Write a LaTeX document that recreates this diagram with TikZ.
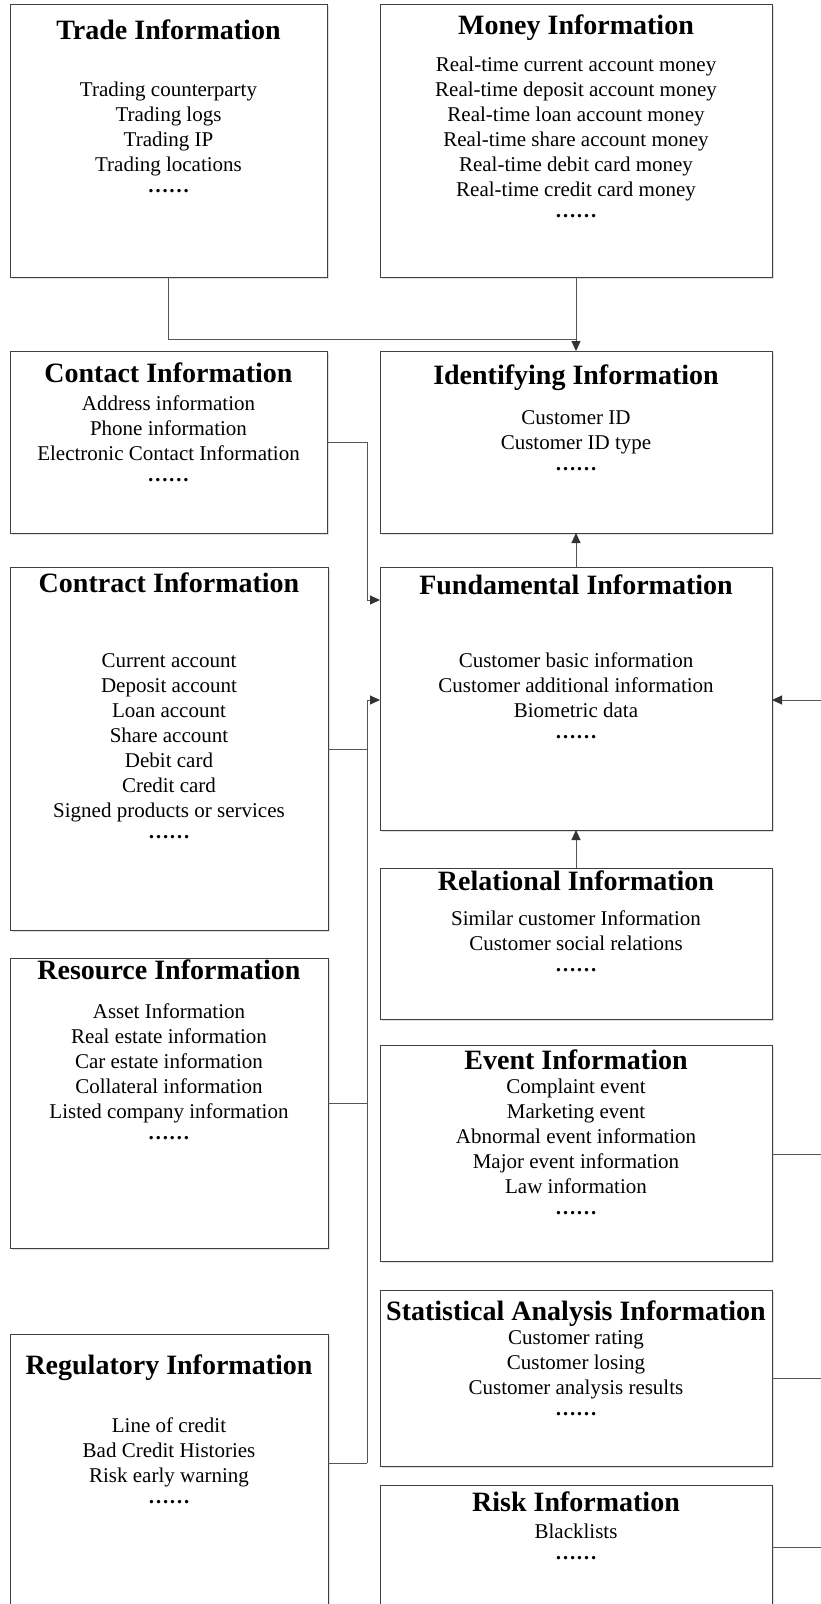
\documentclass[tikz,border=0pt]{standalone}
\usepackage{fontspec}
\setmainfont{Liberation Serif}
\usetikzlibrary{arrows.meta,shadows}
\definecolor{boxc}{HTML}{404040}
\definecolor{linec}{HTML}{555555}
\definecolor{arrc}{HTML}{333333}
\newcommand{\mydots}{\raisebox{4pt}{\textbf{……}}}
\begin{document}
\begin{tikzpicture}[x=1pt,y=-1pt,
  box/.style={draw=boxc, line width=1pt, fill=white, anchor=north west, inner sep=0pt, outer sep=0pt,
    drop shadow={shadow xshift=2pt, shadow yshift=-2pt, fill=black, opacity=0.12}},
  ttl/.style={font=\fontsize{28}{34}\selectfont\bfseries, anchor=base, inner sep=0pt},
  txt/.style={font=\fontsize{21}{25}\selectfont, align=center, anchor=base, inner sep=0pt},
  conn/.style={draw=linec, line width=1pt},
  arr/.style={conn, -{Triangle[length=10pt,width=9pt,color=arrc]}}
]
\fill[white] (0,0) rectangle (821,1604);
\useasboundingbox (0,0) rectangle (821,1604);
\clip (0,0) rectangle (821,1604);

% boxes
\node[box, minimum width=317, minimum height=273] (trade) at (10,4) {};
\node[box, minimum width=392, minimum height=273] (money) at (380,4) {};
\node[box, minimum width=317, minimum height=182] (contact) at (10,351) {};
\node[box, minimum width=392, minimum height=182] (ident) at (380,351) {};
\node[box, minimum width=318, minimum height=363] (contract) at (10,567) {};
\node[box, minimum width=392, minimum height=263] (fund) at (380,567) {};
\node[box, minimum width=392, minimum height=151] (rel) at (380,868) {};
\node[box, minimum width=318, minimum height=290] (res) at (10,958) {};
\node[box, minimum width=392, minimum height=216] (event) at (380,1045) {};
\node[box, minimum width=392, minimum height=176] (stat) at (380,1290) {};
\node[box, minimum width=318, minimum height=320] (reg) at (10,1334) {};
\node[box, minimum width=392, minimum height=170] (risk) at (380,1485) {};

% texts (body nodes anchored at the baseline of their last line)
\node[ttl] (tradeT) at (168.5,39.5) {Trade Information};
\node[txt] (tradeB) at (168.5,196.7) {Trading counterparty\\Trading logs\\Trading IP\\Trading locations\\\mydots};

\node[ttl] (moneyT) at (576,34.3) {Money Information};
\node[txt] (moneyB) at (576,221.7) {Real-time current account money\\Real-time deposit account money\\Real-time loan account money\\Real-time share account money\\Real-time debit card money\\Real-time credit card money\\\mydots};

\node[ttl] (contactT) at (168.5,382) {Contact Information};
\node[txt] (contactB) at (168.5,485) {Address information\\Phone information\\Electronic Contact Information\\\mydots};

\node[ttl] (identT) at (576,384) {Identifying Information};
\node[txt] (identB) at (576,474) {Customer ID\\Customer ID type\\\mydots};

\node[ttl] (contractT) at (169,592) {Contract Information};
\node[txt] (contractB) at (169,842) {Current account\\Deposit account\\Loan account\\Share account\\Debit card\\Credit card\\Signed products or services\\\mydots};

\node[ttl] (fundT) at (576,594) {Fundamental Information};
\node[txt] (fundB) at (576,742) {Customer basic information\\Customer additional information\\Biometric data\\\mydots};

\node[ttl] (relT) at (576,890) {Relational Information};
\node[txt] (relB) at (576,975) {Similar customer Information\\Customer social relations\\\mydots};

\node[ttl] (resT) at (169,979) {Resource Information};
\node[txt] (resB) at (169,1143) {Asset Information\\Real estate information\\Car estate information\\Collateral information\\Listed company information\\\mydots};

\node[ttl] (eventT) at (576,1069) {Event Information};
\node[txt] (eventB) at (576,1218) {Complaint event\\Marketing event\\Abnormal event information\\Major event information\\Law information\\\mydots};

\node[ttl] (statT) at (576,1320) {Statistical Analysis Information};
\node[txt] (statB) at (576,1419) {Customer rating\\Customer losing\\Customer analysis results\\\mydots};

\node[ttl] (regT) at (169,1374) {Regulatory Information};
\node[txt] (regB) at (169,1507) {Line of credit\\Bad Credit Histories\\Risk early warning\\\mydots};

\node[ttl] (riskT) at (576,1511) {Risk Information};
\node[txt] (riskB) at (576,1563) {Blacklists\\\mydots};

% connectors
\coordinate (j1) at (576,339);
\draw[conn] (trade.south) |- (j1);
\draw[arr] (money.south) -- (ident.north);
\draw[arr] (fund.north) -- (ident.south);
\draw[arr] (rel.north) -- (fund.south);

\coordinate (cb1) at (367,442);
\coordinate (cb2) at (367,600);
\draw[arr] (contact.east |- cb1) -- (cb1) -- (cb2) -- (fund.west |- cb2);

\coordinate (bt) at (367,700);
\coordinate (b1) at (367,749);
\coordinate (b2) at (367,1103);
\coordinate (bb) at (367,1463);
\draw[arr] (bb) -- (bt) -- (fund.west |- bt);
\draw[conn] (contract.east |- b1) -- (b1);
\draw[conn] (res.east |- b2) -- (b2);
\draw[conn] (reg.east |- bb) -- (bb);

\coordinate (r0) at (821,700);
\coordinate (r1) at (821,1154);
\coordinate (r2) at (821,1378);
\coordinate (r3) at (821,1547);
\draw[arr] (r0) -- (fund.east |- r0);
\draw[conn] (event.east |- r1) -- (r1);
\draw[conn] (stat.east |- r2) -- (r2);
\draw[conn] (risk.east |- r3) -- (r3);
\end{tikzpicture}
\end{document}
